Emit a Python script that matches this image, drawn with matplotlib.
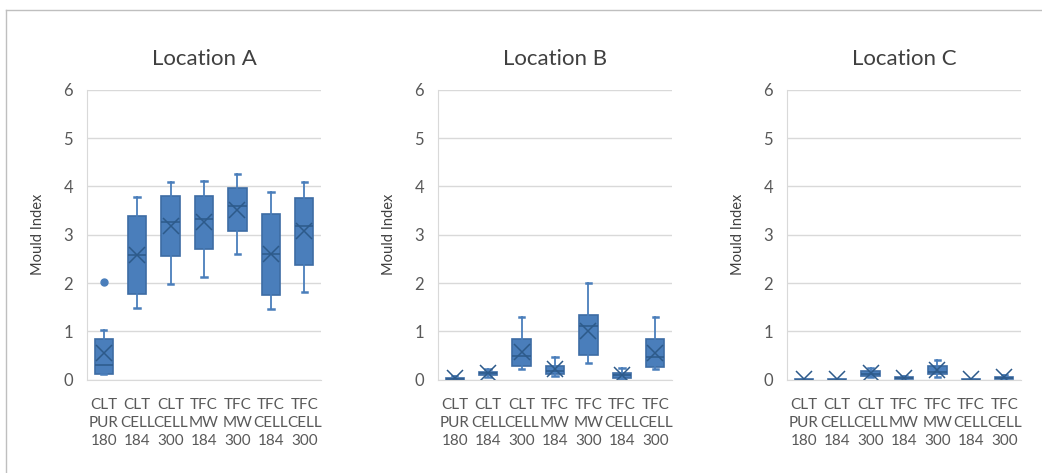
import matplotlib.pyplot as plt
from matplotlib.lines import Line2D

# -------------------------------------------------------------------
# Data
# -------------------------------------------------------------------
CATEGORIES = ["CLT\nPUR\n180", "CLT\nCELL\n184", "CLT\nCELL\n300", "TFC\nMW\n184",
              "TFC\nMW\n300", "TFC\nCELL\n184", "TFC\nCELL\n300"]
LOCATIONS = ["Location A", "Location B", "Location C"]

# Location A
a_lo = [0.11, 1.49, 1.97, 2.12, 2.60, 1.47, 1.81]
a_q1 = [0.12, 1.78, 2.56, 2.70, 3.08, 1.75, 2.38]
a_med = [0.30, 2.58, 3.27, 3.32, 3.59, 2.61, 3.19]
a_q3 = [0.84, 3.38, 3.80, 3.81, 3.97, 3.42, 3.76]
a_hi = [1.02, 3.79, 4.10, 4.12, 4.25, 3.88, 4.10]
a_mean = [0.55, 2.59, 3.18, 3.27, 3.52, 2.60, 3.08]
a_fliers = [[2.02], [], [], [], [], [], []]

# Location B
b_lo = [0.00, 0.06, 0.21, 0.08, 0.35, 0.02, 0.21]
b_q1 = [0.00, 0.09, 0.28, 0.11, 0.50, 0.03, 0.25]
b_med = [0.02, 0.13, 0.48, 0.18, 1.11, 0.09, 0.47]
b_q3 = [0.03, 0.16, 0.83, 0.28, 1.33, 0.14, 0.83]
b_hi = [0.07, 0.21, 1.30, 0.46, 2.01, 0.23, 1.29]
b_mean = [0.03, 0.13, 0.57, 0.22, 1.01, 0.10, 0.55]
b_fliers = [[], [], [], [], [], [], []]

# Location C
c_lo = [0.00, 0.00, 0.06, 0.01, 0.06, 0.00, 0.01]
c_q1 = [0.00, 0.00, 0.07, 0.02, 0.11, 0.00, 0.02]
c_med = [0.00, 0.00, 0.12, 0.03, 0.16, 0.00, 0.04]
c_q3 = [0.01, 0.01, 0.18, 0.05, 0.28, 0.01, 0.06]
c_hi = [0.02, 0.02, 0.23, 0.07, 0.40, 0.02, 0.10]
c_mean = [0.02, 0.02, 0.14, 0.04, 0.19, 0.02, 0.05]
c_fliers = [[], [], [], [], [], [], []]

PANELS = [
    (a_lo, a_q1, a_med, a_q3, a_hi, a_mean, a_fliers),
    (b_lo, b_q1, b_med, b_q3, b_hi, b_mean, b_fliers),
    (c_lo, c_q1, c_med, c_q3, c_hi, c_mean, c_fliers),
]

# -------------------------------------------------------------------
# Style
# -------------------------------------------------------------------
plt.rcParams["font.family"] = ["Lato", "DejaVu Sans"]
FILL = "#4a7ebb"
EDGE = "#3d6ca4"
DARK = "#2d5a8a"
TEXT = "#595959"
GRID = "#d9d9d9"

fig = plt.figure(figsize=(10.42, 4.73), dpi=100)

# thin frame lines top / left like the cropped screenshot
fig.add_artist(Line2D([6 / 1042, 1], [1 - 10 / 473, 1 - 10 / 473], color="#bfbfbf", lw=1))
fig.add_artist(Line2D([6 / 1042, 6 / 1042], [0, 1 - 10 / 473], color="#bfbfbf", lw=1))

lefts = [87, 438, 787]
for left, title, (lo, q1, med, q3, hi, mean, fliers) in zip(lefts, LOCATIONS, PANELS):
    ax = fig.add_axes([left / 1042, 1 - 379.5 / 473, 234 / 1042, 289.5 / 473])

    stats = []
    for i, lab in enumerate(CATEGORIES):
        stats.append({"label": lab, "whislo": lo[i], "q1": q1[i], "med": med[i],
                      "q3": q3[i], "whishi": hi[i], "mean": mean[i], "fliers": fliers[i]})

    ax.bxp(stats, positions=range(len(stats)), widths=0.55, capwidths=0.16,
           patch_artist=True, showmeans=True,
           boxprops=dict(facecolor=FILL, edgecolor=EDGE, linewidth=1.2),
           medianprops=dict(color=DARK, linewidth=1.1),
           whiskerprops=dict(color=FILL, linewidth=1.3),
           capprops=dict(color=FILL, linewidth=1.8),
           meanprops=dict(marker="x", markersize=11, markeredgecolor=DARK,
                          markeredgewidth=1.1),
           flierprops=dict(marker="o", markersize=5, markerfacecolor=FILL,
                           markeredgecolor=FILL))

    ax.set_xlim(-0.5, len(stats) - 0.5)
    ax.set_ylim(0, 6)
    ax.set_yticks(range(0, 7))
    ax.grid(axis="y", color=GRID, linewidth=1)
    ax.set_axisbelow(True)
    for side in ["top", "right"]:
        ax.spines[side].set_visible(False)
    ax.spines["left"].set_color(GRID)
    ax.spines["bottom"].set_color(GRID)
    ax.tick_params(length=0, colors=TEXT)
    ax.tick_params(axis="x", pad=13, labelsize=11)
    ax.tick_params(axis="y", pad=10, labelsize=12)
    for t in ax.get_xticklabels():
        t.set_linespacing(1.4)
    ax.set_ylabel("Mould Index", color="#404040", fontsize=10.5, labelpad=13)
    ax.set_title(title, color="#404040", fontsize=16, pad=18)

fig.savefig("out.png", dpi=100, facecolor="white")
